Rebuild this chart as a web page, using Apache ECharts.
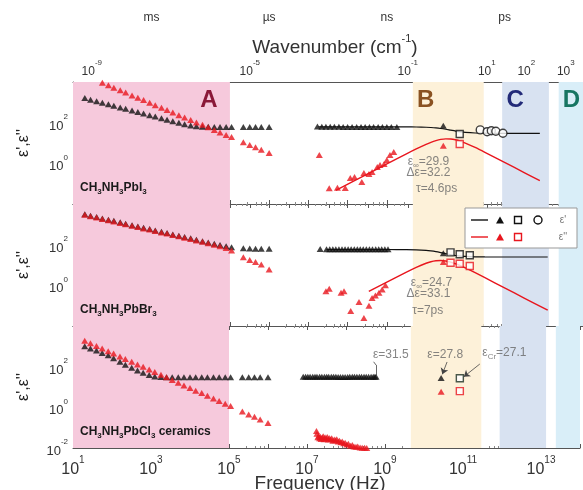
<!DOCTYPE html>
<html>
<head>
<meta charset="utf-8">
<title>Dielectric spectra of CH3NH3PbX3</title>
<script src="https://cdn.jsdelivr.net/npm/echarts@6/dist/echarts.min.js"></script>
<style>
  html, body { margin: 0; padding: 0; background: #fff; }
  #chart { width: 583px; height: 490px; }
</style>
</head>
<body>
<div id="chart"></div>
<script>
// ---------------------------------------------------------------------------
// Measured data
// ---------------------------------------------------------------------------

// frequency grid of the low-frequency impedance sweep (Hz)
const lowFreq = [20, 28, 40, 56, 80, 110, 160, 220, 320, 450, 630, 900, 1250, 1800, 2500,
  3500, 5000, 7000, 1e4, 1.4e4, 2e4, 2.8e4, 4e4, 5.6e4, 8e4, 1.1e5, 2.2e5, 3.2e5, 4.5e5, 6.3e5, 1e6];

// --- CH3NH3PbI3 ---
const iodReLow = [1620, 1350, 1120, 955, 795, 676, 562, 479, 398, 339, 282, 234, 200, 166, 141,
  117, 98, 83, 72, 66, 63, 63, 62, 62, 62, 62, 62, 62, 61, 61, 61];
const iodImLow = [21000, 15800, 12000, 9100, 6900, 5250, 3890, 3020, 2190, 1700, 1290, 955, 724, 537, 417,
  316, 234, 178, 135, 102, 78, 59, 44, 33, 25, 19.5, 11, 7.9, 6.2, 4.7, 3.2];
const iodRfFreq = [1.7e7, 2.2e7, 2.8e7, 3.6e7, 4.6e7, 6e7, 7.7e7, 1e8, 1.3e8, 1.7e8, 2.2e8, 2.8e8,
  3.6e8, 4.6e8, 6e8, 7.7e8, 1e9, 1.3e9, 1.8e9];
const iodRfRe = [64, 63, 63, 63, 63, 63, 62, 62, 62, 62, 62, 62, 62, 62, 62, 62, 62, 62, 61];
const iodRfImFreq = [1.9e7, 3.4e7, 5.5e7, 8.7e7, 1.17e8, 1.5e8, 2.3e8, 2.6e8, 3.5e8, 4.2e8, 5.7e8,
  6.7e8, 8.5e8, 1e9, 1.2e9, 1.5e9];
const iodRfIm = [2.57, 0.059, 0.063, 0.061, 0.19, 0.21, 0.12, 0.33, 0.30, 0.37, 0.66, 0.83, 0.93, 1.46, 2.57, 3.6];
const iodTriFreq = [2.75e10];
const iodTriRe = [70];
const iodTriIm = [7.4];
const iodSqFreq = [7.2e10];
const iodSqRe = [27.7];
const iodSqIm = [8.9];
const iodCircFreq = [2.4e11, 3.6e11, 4.6e11, 6.0e11, 9.1e11];
const iodCircRe = [44, 36, 40, 38, 30];
// Debye relaxation fit (eps_inf = 29.9, d_eps = 32.2, tau = 4.6 ps), tabulated
const iodFit = { epsInf: 29.9, dEps: 32.2, tauPs: 4.6 };
const iodFitReFreq = [1.8e7, 1e8, 3.16e8, 1e9, 3.16e9, 5.62e9, 1e10, 1.33e10, 1.78e10, 2.37e10, 3.16e10,
  4.22e10, 5.62e10, 7.5e10, 1e11, 1.78e11, 3.16e11, 1e12, 3.16e12, 7.94e12];
const iodFitRe = [62.1, 62.1, 62.1, 62.07, 61.83, 61.27, 59.62, 57.94, 55.37, 51.81, 47.44,
  42.86, 38.75, 35.55, 33.34, 31.07, 30.28, 29.94, 29.90, 29.90];
const iodFitImFreq = [5e7, 3.16e8, 1e9, 3.16e9, 5.62e9, 1e10, 1.33e10, 1.78e10, 2.37e10, 3.16e10,
  4.22e10, 5.62e10, 7.5e10, 1e11, 1.78e11, 3.16e11, 1e12, 3.16e12, 7.94e12];
const iodFitIm = [0.0465, 0.294, 0.929, 2.919, 5.098, 8.589, 10.81, 13.09, 15.01, 16.04,
  15.79, 14.37, 12.25, 9.951, 6.036, 3.481, 1.113, 0.3523, 0.1402];

// --- CH3NH3PbBr3 ---
const brReLow = [3090, 2630, 2290, 1950, 1700, 1480, 1260, 1070, 910, 790, 680, 590, 500, 430, 370,
  320, 275, 235, 205, 174, 148, 129, 110, 95, 83, 74, 66, 64, 63, 63, 63];
const brImLow = [2950, 2510, 2140, 1820, 1580, 1380, 1170, 1000, 850, 740, 630, 550, 470, 400, 350,
  300, 257, 219, 190, 162, 138, 117, 100, 83, 69, 52, 24, 17.8, 14.1, 10.7, 6.0];
const brRfFreq = [2e7, 2.9e7, 3.5e7, 4.2e7, 5e7, 6e7, 7.2e7, 8.6e7, 1.03e8, 1.23e8, 1.48e8, 1.77e8,
  2.1e8, 2.5e8, 3e8, 3.6e8, 4.3e8, 5.2e8, 6.2e8, 7.4e8, 8.9e8, 1.07e9];
const brRfRe = [61, 60, 60, 60, 60, 60, 60, 60, 60, 60, 60, 60, 60, 60, 60, 60, 59, 59, 59, 59, 59, 59];
const brRfImFreq = [2.8e7, 3.4e7, 6.8e7, 8.1e7, 1.2e8, 1.95e8, 2.6e8, 3.5e8, 4.2e8, 5.1e8, 6.3e8, 7.6e8, 9.2e8];
const brRfIm = [0.51, 0.68, 0.43, 0.51, 0.054, 0.15, 0.025, 0.10, 0.24, 0.32, 0.43, 0.63, 1.0];
const brTriFreq = [2.75e10];
const brTriRe = [38];
const brTriIm = [14.0];
const brSqFreq = [4.2e10, 7.2e10, 1.3e11];
const brSqRe = [42, 34, 30];
const brSqIm = [13.0, 11.6, 8.9];
// Debye relaxation fit (eps_inf = 24.7, d_eps = 33.1, tau = 7 ps), tabulated
const brFit = { epsInf: 24.7, dEps: 33.1, tauPs: 7 };
const brFitReFreq = [2.9e7, 1e8, 3.16e8, 1e9, 3.16e9, 5.62e9, 1e10, 1.33e10, 1.78e10, 2.37e10, 3.16e10,
  4.22e10, 5.62e10, 7.5e10, 1e11, 1.78e11, 3.16e11, 1e12, 3.16e12, 1.26e13];
const brFitRe = [57.8, 57.8, 57.79, 57.74, 57.17, 55.89, 52.44, 49.33, 45.24, 40.56, 35.98,
  32.16, 29.35, 27.49, 26.33, 25.23, 24.87, 24.72, 24.70, 24.70];
const brFitImFreq = [3.47e8, 1e9, 3.16e9, 5.62e9, 1e10, 1.33e10, 1.78e10, 2.37e10, 3.16e10, 4.22e10,
  5.62e10, 7.5e10, 1e11, 1.78e11, 3.16e11, 1e12, 3.16e12, 1.26e13];
const brFitIm = [0.505, 1.453, 4.517, 7.714, 12.20, 14.45, 16.06, 16.54, 15.69, 13.83,
  11.50, 9.19, 7.157, 4.165, 2.368, 0.7523, 0.238, 0.0598];

// --- CH3NH3PbCl3 ceramics ---
const clReLow = [1000, 780, 620, 470, 360, 263, 174, 123, 89, 65, 50, 39, 33, 31, 30,
  30, 30, 30, 30, 30, 30, 30, 30, 30, 30, 30, 30, 30, 30, 30, 30];
const clImLow = [1900, 1410, 1050, 780, 575, 440, 316, 240, 174, 129, 98, 72, 54, 40, 30,
  22, 16.2, 12, 8.9, 6.6, 5.0, 3.7, 2.75, 2.04, 1.51, 1.15, 0.63, 0.45, 0.34, 0.25, 0.17];
const clRfFreq = [8.0e6, 9.2e6, 1.05e7, 1.2e7, 1.4e7, 1.6e7, 1.8e7, 2.1e7, 2.4e7, 2.8e7, 3.2e7, 3.6e7,
  4.2e7, 4.8e7, 5.5e7, 6.3e7, 7.2e7, 8.3e7, 9.5e7, 1.1e8, 1.25e8, 1.45e8, 1.65e8, 1.9e8, 2.2e8,
  2.5e8, 2.9e8, 3.3e8, 3.8e8, 4.4e8, 5.0e8, 5.5e8, 5.9e8];
const clRfRe = [31.9, 31.8, 31.7, 31.7, 31.6, 31.6, 31.6, 31.5, 31.5, 31.5, 31.5, 31.5,
  31.5, 31.5, 31.5, 31.4, 31.4, 31.4, 31.4, 31.4, 31.5, 31.5, 31.5, 31.5, 31.5,
  31.5, 31.5, 31.5, 31.5, 31.5, 31.5, 31.5, 31.5];
const clRfImFreq = [1.75e7, 1.8e7, 1.9e7, 2.0e7, 2.1e7, 2.2e7, 2.3e7, 2.45e7, 2.6e7, 2.75e7, 2.9e7,
  3.1e7, 3.3e7, 3.5e7, 3.7e7, 4.0e7, 4.3e7, 4.6e7, 5.0e7, 5.4e7, 5.8e7, 6.3e7, 6.8e7, 7.4e7, 8.0e7,
  8.7e7, 9.5e7, 1.05e8, 1.15e8, 1.3e8, 1.45e8, 1.6e8, 1.8e8, 2.0e8, 2.3e8, 2.6e8, 3.0e8, 3.4e8];
const clRfIm = [0.069, 0.05, 0.034, 0.04, 0.03, 0.036, 0.028, 0.033, 0.038, 0.027, 0.034,
  0.029, 0.035, 0.026, 0.031, 0.027, 0.03, 0.023, 0.026, 0.024, 0.027, 0.021, 0.023, 0.019, 0.021,
  0.017, 0.018, 0.015, 0.016, 0.013, 0.014, 0.012, 0.0115, 0.012, 0.0107, 0.0104, 0.0102, 0.0101];
const clTriFreq = [2.75e10];
const clTriRe = [27.8];
const clTriIm = [5.9];
const clSqFreq = [8.3e10];
const clSqRe = [27.1];
const clSqIm = [6.3];

// ---------------------------------------------------------------------------
// Axis ticks, spectral regions, labels
// ---------------------------------------------------------------------------
const freqTickExp = [1, 3, 5, 7, 9, 11, 13];
const wavenumberTickExp = [-9, -5, -1, 1, 2, 3];
const epsTickExp = [[0, 2], [0, 2], [-2, 0, 2]];
const timeUnits = [['ms', 1e-3], ['\u00b5s', 1e-6], ['ns', 1e-9], ['ps', 1e-12]];

const bandNames = ['A', 'B', 'C', 'D'];
const bandRanges = [[10, 1e5], [4.6e9, 2.95e11], [8.7e11, 1.35e13], [2.4e13, 1e14]];
const bandColors = ['#f6c9dc', '#fdf1d9', '#d8e2f1', '#d9eef8'];
const bandNameColors = ['#8a1838', '#8a5222', '#222a78', '#177562'];
const bandNameAt = [[2.9e4, 1290], [9.8e9, 1290], [1.86e12, 1290], [5.1e13, 1290]];

const samples = [
  '{b|CH}{s|3}{b|NH}{s|3}{b|PbI}{s|3}',
  '{b|CH}{s|3}{b|NH}{s|3}{b|PbBr}{s|3}',
  '{b|CH}{s|3}{b|NH}{s|3}{b|PbCl}{s|3}{b| ceramics}'
];

// ---------------------------------------------------------------------------
// Layout
// ---------------------------------------------------------------------------
const W = 583;
const F_MIN = 10, F_MAX = 1e14;
const PLOT_LEFT = 73, DECADE_PX = 39.5, PLOT_TOP = 82, PANEL_H = 122;
const PLOT_RIGHT = W - (PLOT_LEFT + DECADE_PX * Math.log10(F_MAX / F_MIN));
const LIGHT_SPEED = 2.998e10; // cm/s, converts wavenumber to frequency
const WN_MIN = 1e-9, WN_MAX = 1e3;

const FONT = '"Liberation Sans", Arial, Helvetica, sans-serif';
const INK = '#333';
const AXIS = '#555';
const RED = '#e8161e';
const NOTE = '#666';

const chart = echarts.init(document.getElementById('chart'), null, { renderer: 'canvas' });

const pts = (fs, vs) => fs.map((f, i) => [f, vs[i]]);
const expOf = v => Math.round(Math.log10(v));
const isDecade = v => Math.abs(Math.log10(v) - expOf(v)) < 1e-6;
const pow10 = e => '{b|10}{s|' + e + '}';
const powRich = (big, small, color) => ({
  b: { fontSize: big, fontFamily: FONT, color: color, lineHeight: big + 7, verticalAlign: 'bottom' },
  s: { fontSize: small, fontFamily: FONT, color: color, lineHeight: small + 2, verticalAlign: 'top' }
});

function decadeFormatter(list) {
  return v => (isDecade(v) && list.indexOf(expOf(v)) >= 0) ? pow10(expOf(v)) : '';
}

const grids = [], xAxes = [], yAxes = [], series = [];

for (let p = 0; p < 3; p++) {
  grids.push({ left: PLOT_LEFT, right: PLOT_RIGHT, top: PLOT_TOP + p * PANEL_H, height: PANEL_H });
  const isLast = p === 2;
  // bottom frequency axis of panel p
  xAxes.push({
    type: 'log', logBase: 10, gridIndex: p, position: 'bottom', min: F_MIN, max: F_MAX, interval: 1,
    axisLine: { show: true, lineStyle: { color: AXIS, width: 1 } },
    axisTick: { show: true, inside: true, length: 4, lineStyle: { color: AXIS } },
    minorTick: { show: true, splitNumber: 5, length: 2, lineStyle: { color: '#888' } },
    splitLine: { show: false }, minorSplitLine: { show: false },
    axisLabel: isLast ? {
      show: true, margin: 7, formatter: decadeFormatter(freqTickExp), rich: powRich(16, 10, INK)
    } : { show: false }
  });
  // top frequency axis of panel p (frame line + ticks)
  xAxes.push({
    type: 'log', logBase: 10, gridIndex: p, position: 'top', min: F_MIN, max: F_MAX, interval: 1,
    axisLine: { show: true, lineStyle: { color: AXIS, width: 1 } },
    axisTick: { show: p > 0, inside: true, length: 4, lineStyle: { color: AXIS } },
    minorTick: { show: p > 0, splitNumber: 5, length: 2, lineStyle: { color: '#888' } },
    splitLine: { show: false }, axisLabel: { show: false }
  });
  yAxes.push({
    type: 'log', logBase: 10, gridIndex: p, min: 1e-2, max: 1e4, interval: 1,
    axisLine: { show: true, lineStyle: { color: AXIS, width: 1 } },
    axisTick: { show: true, inside: true, length: 4, lineStyle: { color: AXIS } },
    minorTick: { show: true, splitNumber: 2, length: 2, lineStyle: { color: '#888' } },
    splitLine: { show: false }, minorSplitLine: { show: false },
    axisLabel: { show: true, margin: 5, formatter: decadeFormatter(epsTickExp[p]), rich: powRich(13, 8, INK) }
  });
  // spectral regions A-D
  series.push({
    type: 'line', xAxisIndex: 2 * p, yAxisIndex: p, data: [], z: 0, silent: true,
    markArea: {
      silent: true, label: { show: false },
      data: bandRanges.map((r, i) => [{ xAxis: r[0], itemStyle: { color: bandColors[i] } }, { xAxis: r[1] }])
    }
  });
}

// wavenumber axis on an overlay grid that shares the frequency scale
const wnLeft = PLOT_LEFT + DECADE_PX * Math.log10(WN_MIN * LIGHT_SPEED / F_MIN);
const wnRight = W - (PLOT_LEFT + DECADE_PX * Math.log10(WN_MAX * LIGHT_SPEED / F_MIN));
grids.push({ left: wnLeft, right: wnRight, top: PLOT_TOP, height: PANEL_H });
xAxes.push({
  type: 'log', logBase: 10, gridIndex: 3, position: 'top', min: WN_MIN, max: WN_MAX, interval: 1,
  axisLine: { show: false },
  axisTick: { show: true, inside: true, length: 4, lineStyle: { color: AXIS } },
  minorTick: { show: true, splitNumber: 5, length: 2, lineStyle: { color: '#888' } },
  splitLine: { show: false },
  axisLabel: { show: true, margin: 4, formatter: decadeFormatter(wavenumberTickExp), rich: powRich(12, 8, INK) }
});
yAxes.push({ type: 'value', gridIndex: 3, show: false, min: 0, max: 1 });

function marks(p, fs, vs, symbol, color, hollow, size, z) {
  return {
    type: 'scatter', xAxisIndex: 2 * p, yAxisIndex: p, data: pts(fs, vs),
    symbol: symbol, symbolSize: size, z: z, silent: true,
    itemStyle: hollow ? { color: '#fff', borderColor: color, borderWidth: 1.4 } : { color: color }
  };
}
function curve(p, fs, vs, color, width) {
  return {
    type: 'line', xAxisIndex: 2 * p, yAxisIndex: p, data: pts(fs, vs), showSymbol: false,
    symbol: 'none', smooth: 0.3, z: 2, silent: true, lineStyle: { color: color, width: width }
  };
}
const TRI = [7, 6];

// CH3NH3PbI3
series.push(
  curve(0, iodFitReFreq, iodFitRe, '#111', 1.2),
  curve(0, iodFitImFreq, iodFitIm, RED, 1.4),
  marks(0, lowFreq, iodReLow, 'triangle', '#111', false, TRI, 4),
  marks(0, lowFreq, iodImLow, 'triangle', RED, false, TRI, 5),
  marks(0, iodRfFreq, iodRfRe, 'triangle', '#111', false, TRI, 4),
  marks(0, iodRfImFreq, iodRfIm, 'triangle', RED, false, TRI, 5),
  marks(0, iodTriFreq, iodTriRe, 'triangle', '#111', false, TRI, 4),
  marks(0, iodTriFreq, iodTriIm, 'triangle', RED, false, TRI, 5),
  marks(0, iodSqFreq, iodSqRe, 'rect', '#111', true, 7, 4),
  marks(0, iodSqFreq, iodSqIm, 'rect', RED, true, 7, 5),
  marks(0, iodCircFreq, iodCircRe, 'circle', '#111', true, 8, 4)
);
// CH3NH3PbBr3
series.push(
  curve(1, brFitReFreq, brFitRe, '#111', 1.2),
  curve(1, brFitImFreq, brFitIm, RED, 1.4),
  marks(1, lowFreq, brReLow, 'triangle', '#111', false, TRI, 4),
  marks(1, lowFreq, brImLow, 'triangle', RED, false, TRI, 5),
  marks(1, brRfFreq, brRfRe, 'triangle', '#111', false, TRI, 4),
  marks(1, brRfImFreq, brRfIm, 'triangle', RED, false, TRI, 5),
  marks(1, brTriFreq, brTriRe, 'triangle', '#111', false, TRI, 4),
  marks(1, brTriFreq, brTriIm, 'triangle', RED, false, TRI, 5),
  marks(1, brSqFreq, brSqRe, 'rect', '#111', true, 7, 4),
  marks(1, brSqFreq, brSqIm, 'rect', RED, true, 7, 5)
);
// CH3NH3PbCl3 ceramics
series.push(
  marks(2, lowFreq, clReLow, 'triangle', '#111', false, TRI, 4),
  marks(2, lowFreq, clImLow, 'triangle', RED, false, TRI, 5),
  marks(2, clRfFreq, clRfRe, 'triangle', '#111', false, TRI, 4),
  marks(2, clRfImFreq, clRfIm, 'triangle', RED, false, TRI, 5),
  marks(2, clTriFreq, clTriRe, 'triangle', '#111', false, TRI, 4),
  marks(2, clTriFreq, clTriIm, 'triangle', RED, false, TRI, 5),
  marks(2, clSqFreq, clSqRe, 'rect', '#1c2f22', true, 7, 4),
  marks(2, clSqFreq, clSqIm, 'rect', RED, true, 7, 5)
);

// fit parameters and static permittivities written next to the data
const noteRich = {
  e: { fontSize: 12, fontFamily: FONT, color: NOTE, lineHeight: 14, verticalAlign: 'top' },
  sub: { fontSize: 8, fontFamily: FONT, color: NOTE, lineHeight: 8, verticalAlign: 'bottom' }
};
const notes = [
  [0, '{e|\u03b5}{sub|\u221e}{e|=' + iodFit.epsInf + '}', [1.15e10, 1.04]],
  [0, '{e|\u0394\u03b5=' + iodFit.dEps + '}', [1.15e10, 0.30]],
  [0, '{e|\u03c4=' + iodFit.tauPs + 'ps}', [1.86e10, 0.049]],
  [1, '{e|\u03b5}{sub|\u221e}{e|=' + brFit.epsInf + '}', [1.38e10, 1.16]],
  [1, '{e|\u0394\u03b5=' + brFit.dEps + '}', [1.15e10, 0.333]],
  [1, '{e|\u03c4=' + brFit.tauPs + 'ps}', [1.1e10, 0.049]],
  [2, '{e|\u03b5=' + clRfRe[clRfRe.length - 1] + '}', [1.41e9, 331]],
  [2, '{e|\u03b5=' + clTriRe[0] + '}', [3.5e10, 331]],
  [2, '{e|\u03b5}{sub|Cr}{e|=' + clSqRe[0] + '}', [1.15e12, 417]]
];
for (let p = 0; p < 3; p++) {
  series.push({
    type: 'scatter', xAxisIndex: 2 * p, yAxisIndex: p, symbolSize: 1, z: 6, silent: true,
    itemStyle: { color: 'rgba(0,0,0,0)' },
    data: notes.filter(n => n[0] === p).map(n => ({ value: n[2], text: n[1] })),
    label: {
      show: true, position: 'inside', formatter: d => d.data.text, rich: noteRich,
      textBorderWidth: 0
    }
  });
}

// leader lines from the permittivity values to their points
series.push({
  type: 'line', xAxisIndex: 4, yAxisIndex: 2, data: [], z: 6, silent: true,
  markLine: {
    silent: true, symbol: ['none', 'none'], symbolSize: 6, label: { show: false },
    lineStyle: { color: '#444', width: 0.8, type: 'solid' },
    data: [
      [{ coord: [5.1e8, 174] }, { coord: [5.9e8, 120] }],
      [{ coord: [5.9e8, 120] }, { coord: [5.9e8, 33] }],
      [{ coord: [3.9e10, 170] }, { coord: [2.95e10, 42], symbol: 'arrow', symbolSize: 6 }],
      [{ coord: [2.7e11, 135] }, { coord: [1.05e11, 32], symbol: 'arrow', symbolSize: 6 }]
    ]
  }
});

chart.setOption({
  animation: false,
  backgroundColor: '#fff',
  textStyle: { fontFamily: FONT },
  grid: grids, xAxis: xAxes, yAxis: yAxes, series: series
});

// ---------------------------------------------------------------------------
// Region letters, axis titles, sample names and the symbol key
// ---------------------------------------------------------------------------
const toX = f => chart.convertToPixel({ xAxisIndex: 0 }, f);
const g = [];
bandNames.forEach((n, i) => {
  const xy = chart.convertToPixel({ gridIndex: 0 }, bandNameAt[i]);
  g.push({
    type: 'text', x: xy[0], y: xy[1], z: 20,
    style: { text: n, font: 'bold 24px ' + FONT, fill: bandNameColors[i], align: 'center', verticalAlign: 'middle' }
  });
});
timeUnits.forEach(t => g.push({
  type: 'text', x: toX(1 / t[1]), y: 18, z: 20,
  style: { text: t[0], font: '12px ' + FONT, fill: INK, align: 'center', verticalAlign: 'middle' }
}));
g.push({
  type: 'text', x: 335, y: 45, z: 20,
  style: {
    text: '{t|Wavenumber (cm}{s|-1}{t|)}', align: 'center', verticalAlign: 'middle',
    rich: {
      t: { fontSize: 19, fontFamily: FONT, fill: INK, color: INK, lineHeight: 24, verticalAlign: 'bottom' },
      s: { fontSize: 11, fontFamily: FONT, fill: INK, color: INK, lineHeight: 12, verticalAlign: 'top' }
    }
  }
});
g.push({
  type: 'text', x: 320, y: 484, z: 20,
  style: { text: 'Frequency (Hz)', font: '19px ' + FONT, fill: INK, align: 'center', verticalAlign: 'middle' }
});
for (let p = 0; p < 3; p++) {
  const cy = PLOT_TOP + p * PANEL_H + PANEL_H / 2;
  g.push({
    type: 'text', x: 24, y: cy, rotation: Math.PI / 2, z: 20,
    style: { text: "\u03b5',\u03b5''", font: '16px ' + FONT, fill: '#222', align: 'center', verticalAlign: 'middle' }
  });
  g.push({
    type: 'text', x: 80, y: PLOT_TOP + (p + 1) * PANEL_H - 15, z: 20,
    style: {
      text: samples[p], align: 'left', verticalAlign: 'middle',
      rich: {
        b: { fontSize: 12, fontWeight: 'bold', fontFamily: FONT, fill: '#1a1a1a', lineHeight: 14, verticalAlign: 'top' },
        s: { fontSize: 8, fontWeight: 'bold', fontFamily: FONT, fill: '#1a1a1a', lineHeight: 8, verticalAlign: 'bottom' }
      }
    }
  });
}
// key for symbols: real part (black) and imaginary part (red)
const kx = 465, ky = 208;
g.push({ type: 'rect', shape: { x: kx, y: ky, width: 112, height: 40 }, style: { fill: '#fff', stroke: '#999', lineWidth: 1 }, z: 50 });
[[220, '#111', "\u03b5'", true], [237, RED, "\u03b5''", false]].forEach(r => {
  const y = r[0], c = r[1];
  g.push({ type: 'line', shape: { x1: kx + 6, y1: y, x2: kx + 23, y2: y }, style: { stroke: c, lineWidth: 1.4 }, z: 51 });
  g.push({ type: 'polygon', shape: { points: [[kx + 31, y + 3.5], [kx + 39, y + 3.5], [kx + 35, y - 3.5]] }, style: { fill: c }, z: 51 });
  g.push({ type: 'rect', shape: { x: kx + 49.5, y: y - 3.5, width: 7, height: 7 }, style: { fill: '#fff', stroke: c, lineWidth: 1.4 }, z: 51 });
  if (r[3]) g.push({ type: 'circle', shape: { cx: kx + 73, cy: y, r: 4 }, style: { fill: '#fff', stroke: c, lineWidth: 1.4 }, z: 51 });
  g.push({ type: 'text', x: kx + 98, y: y, style: { text: r[2], font: '10px ' + FONT, fill: '#777', align: 'center', verticalAlign: 'middle' }, z: 51 });
});
chart.setOption({ graphic: g });
</script>
</body>
</html>
